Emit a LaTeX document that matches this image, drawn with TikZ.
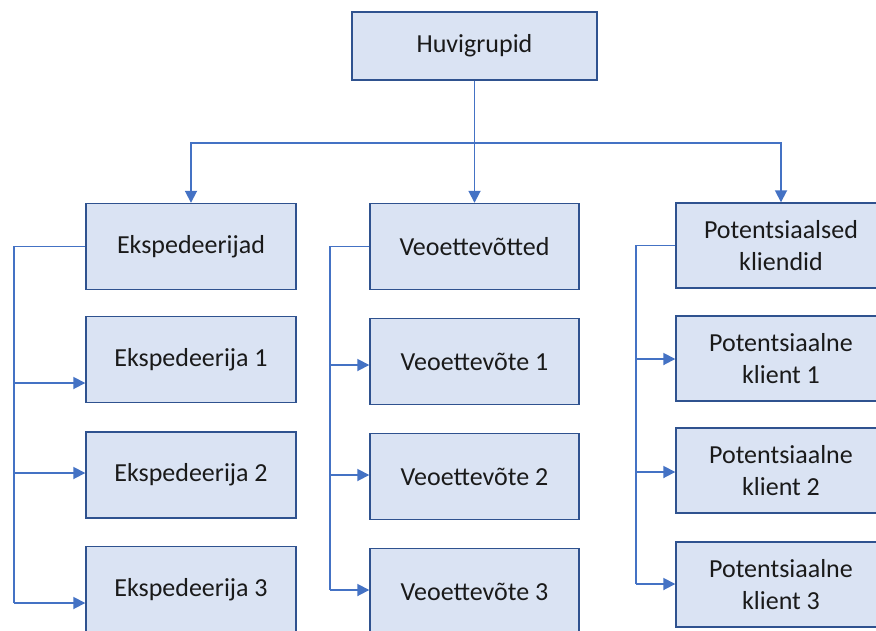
\documentclass[tikz,border=0pt]{standalone}
\usepackage{fontspec}
\setmainfont{Carlito}
\usetikzlibrary{arrows.meta}
\definecolor{boxfill}{HTML}{DAE3F3}
\definecolor{boxline}{HTML}{2F528F}
\definecolor{linkblue}{HTML}{4472C4}
\definecolor{inkgray}{HTML}{1A1A1A}
\tikzset{
  box/.style={draw=boxline, fill=boxfill, line width=1.4pt, inner sep=0pt,
    minimum height=86pt, align=center, text=inkgray,
    font=\fontsize{26}{32}\selectfont},
  colbox/.style={box, minimum width=210pt},
  conn/.style={draw=linkblue, line width=1.8pt},
  arr/.style={conn, -{Triangle[length=12pt,width=12pt]}}
}
\begin{document}
\begin{tikzpicture}[x=1pt, y=-1pt]
  \useasboundingbox (0,0) rectangle (876,630);
  \clip (0,0) rectangle (876,630);

  % root
  \node[box, minimum width=245pt, minimum height=68pt] (top) at (474.5,46) {Huvigrupid};

  % first column
  \node[colbox] (e0) at (191,246.5) {Ekspedeerijad};
  \node[colbox] (e1) at (191,359.5) {Ekspedeerija 1};
  \node[colbox] (e2) at (191,475)   {Ekspedeerija 2};
  \node[colbox] (e3) at (191,589.5) {Ekspedeerija 3};

  % second column
  \node[colbox, minimum width=209pt] (v0) at (474.5,246.5) {Veoettevõtted};
  \node[colbox, minimum width=209pt] (v1) at (474.5,361.5) {Veoettevõte 1};
  \node[colbox, minimum width=209pt] (v2) at (474.5,476.5) {Veoettevõte 2};
  \node[colbox, minimum width=209pt] (v3) at (474.5,591.5) {Veoettevõte 3};

  % third column
  \node[colbox, minimum height=85pt] (p0) at (781,245.5) {Potentsiaalsed\\kliendid};
  \node[colbox, minimum height=85pt] (p1) at (781,358.5) {Potentsiaalne\\klient 1};
  \node[colbox, minimum height=85pt] (p2) at (781,470.5) {Potentsiaalne\\klient 2};
  \node[colbox, minimum height=85pt] (p3) at (781,584.5) {Potentsiaalne\\klient 3};

  % bus under the root
  \coordinate (bus) at (0,143);
  \draw[conn] (top.south) -- (top.south |- bus);
  \draw[arr] (top.south |- bus) -| (e0.north);
  \draw[arr] (top.south |- bus) -| (p0.north);
  \draw[arr] (top.south |- bus) -- (v0.north);

  % side brackets: spine x and tap heights
  \coordinate (ex) at (14,0);
  \coordinate (vx) at (330,0);
  \coordinate (px) at (636,0);
  \coordinate (ey1) at (0,383); \coordinate (ey2) at (0,473); \coordinate (ey3) at (0,603);
  \coordinate (vy1) at (0,365); \coordinate (vy2) at (0,475); \coordinate (vy3) at (0,590);
  \coordinate (py1) at (0,359); \coordinate (py2) at (0,472); \coordinate (py3) at (0,584);

  \draw[conn] (e0.west) -| (ex |- ey3);
  \draw[arr] (ex |- ey1) -- (e1.west |- ey1);
  \draw[arr] (ex |- ey2) -- (e2.west |- ey2);
  \draw[arr] (ex |- ey3) -- (e3.west |- ey3);

  \draw[conn] (v0.west) -| (vx |- vy3);
  \draw[arr] (vx |- vy1) -- (v1.west |- vy1);
  \draw[arr] (vx |- vy2) -- (v2.west |- vy2);
  \draw[arr] (vx |- vy3) -- (v3.west |- vy3);

  \draw[conn] (p0.west) -| (px |- py3);
  \draw[arr] (px |- py1) -- (p1.west |- py1);
  \draw[arr] (px |- py2) -- (p2.west |- py2);
  \draw[arr] (px |- py3) -- (p3.west |- py3);
\end{tikzpicture}
\end{document}
